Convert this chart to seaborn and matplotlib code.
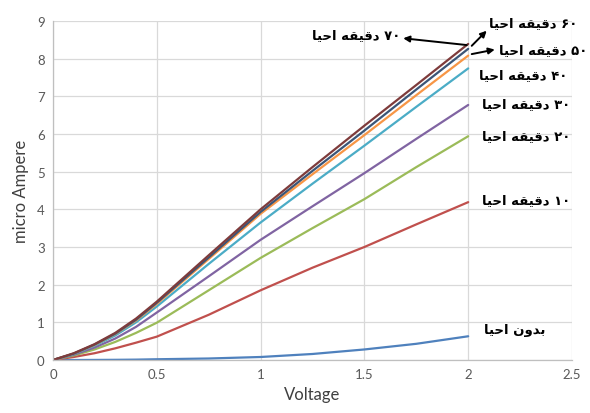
import re
import pandas as pd
import matplotlib
matplotlib.use("Agg")
import matplotlib.pyplot as plt
import seaborn as sns

# Data
voltage = [0, 0.1, 0.2, 0.3, 0.4, 0.5, 0.75, 1.0, 1.25, 1.5, 1.75, 2.0]

current_none = [0, 0.0, 0.002, 0.005, 0.01, 0.02, 0.04, 0.08, 0.16, 0.28, 0.43, 0.63]
current_10 = [0, 0.08, 0.18, 0.31, 0.46, 0.62, 1.2, 1.85, 2.45, 3.0, 3.6, 4.19]
current_20 = [0, 0.12, 0.28, 0.48, 0.72, 0.99, 1.85, 2.71, 3.5, 4.27, 5.12, 5.94]
current_30 = [0, 0.14, 0.33, 0.57, 0.88, 1.26, 2.22, 3.19, 4.08, 4.96, 5.87, 6.77]
current_40 = [0, 0.16, 0.38, 0.65, 1.0, 1.42, 2.55, 3.65, 4.68, 5.69, 6.72, 7.74]
current_50 = [0, 0.17, 0.40, 0.69, 1.05, 1.49, 2.68, 3.88, 4.93, 5.97, 7.03, 8.08]
current_60 = [0, 0.17, 0.41, 0.70, 1.07, 1.52, 2.72, 3.93, 5.02, 6.09, 7.18, 8.26]
current_70 = [0, 0.18, 0.42, 0.72, 1.10, 1.55, 2.78, 4.00, 5.12, 6.22, 7.30, 8.39]

series_labels = ["بدون احیا", "۱۰ دقیقه احیا", "۲۰ دقیقه احیا", "۳۰ دقیقه احیا",
                 "۴۰ دقیقه احیا", "۵۰ دقیقه احیا", "۶۰ دقیقه احیا", "۷۰ دقیقه احیا"]
series_values = [current_none, current_10, current_20, current_30,
                 current_40, current_50, current_60, current_70]
colors = ["#4F81BD", "#C0504D", "#9BBB59", "#8064A2",
          "#4BACC6", "#F79646", "#3B5577", "#7E3B3B"]

x_ticks = [0, 0.5, 1, 1.5, 2, 2.5]
y_ticks = list(range(0, 10))

# --- minimal Arabic/Persian shaping (matplotlib has no complex text layout) ---
# forms: isolated, final, initial, medial
FORMS = {
    "ا": ("\uFE8D", "\uFE8E", None, None),
    "د": ("\uFEA9", "\uFEAA", None, None),
    "و": ("\uFEED", "\uFEEE", None, None),
    "ب": ("\uFE8F", "\uFE90", "\uFE91", "\uFE92"),
    "ح": ("\uFEA1", "\uFEA2", "\uFEA3", "\uFEA4"),
    "ق": ("\uFED5", "\uFED6", "\uFED7", "\uFED8"),
    "ن": ("\uFEE5", "\uFEE6", "\uFEE7", "\uFEE8"),
    "ه": ("\uFEE9", "\uFEEA", "\uFEEB", "\uFEEC"),
    "ی": ("\uFBFC", "\uFBFD", "\uFBFE", "\uFBFF"),
}


def shape_rtl(text):
    def dual(c):
        return c in FORMS and FORMS[c][2] is not None

    out = []
    for i, c in enumerate(text):
        if c not in FORMS:
            out.append(c)
            continue
        prev = text[i - 1] if i > 0 else ""
        nxt = text[i + 1] if i + 1 < len(text) else ""
        jp = dual(prev)
        jn = dual(c) and nxt in FORMS
        iso, fin, ini, med = FORMS[c]
        if jp and jn:
            out.append(med)
        elif jp:
            out.append(fin)
        elif jn:
            out.append(ini)
        else:
            out.append(iso)
    visual = "".join(out)[::-1]
    # digit runs stay left-to-right
    return re.sub(r"[\u06F0-\u06F90-9]+", lambda m: m.group(0)[::-1], visual)


# long-form table for seaborn
rows = []
for lab, vals in zip(series_labels, series_values):
    for v, c in zip(voltage, vals):
        rows.append({"Voltage": v, "Current": c, "Series": lab})
df = pd.DataFrame(rows)

sns.set_style("white")
plt.rcParams["font.family"] = ["Lato", "DejaVu Sans"]

fig = plt.figure(figsize=(5.9, 4.14), dpi=100)
ax = fig.add_axes([0.0898, 0.128, 0.8797, 0.819])

sns.lineplot(data=df, x="Voltage", y="Current", hue="Series",
             hue_order=series_labels, palette=colors, linewidth=1.6,
             legend=False, ax=ax)

ax.set_xlim(0, 2.5)
ax.set_ylim(0, 9)
ax.set_xticks(x_ticks)
ax.set_xticklabels(["0", "0.5", "1", "1.5", "2", "2.5"])
ax.set_yticks(y_ticks)
ax.grid(True, color="#D9D9D9", linewidth=0.9)
ax.set_axisbelow(True)
for side in ["top", "right"]:
    ax.spines[side].set_visible(False)
for side in ["left", "bottom"]:
    ax.spines[side].set_color("#BFBFBF")
    ax.spines[side].set_linewidth(0.9)
ax.tick_params(length=0, labelsize=9.5, colors="#595959", pad=6)
ax.set_xlabel("Voltage", fontsize=12, color="#404040", labelpad=4)
ax.set_ylabel("micro Ampere", fontsize=12, color="#404040", labelpad=6)

# series labels at right of the curves
lab_kw = dict(fontsize=9.5, fontweight="bold", color="black",
              family=["DejaVu Sans"], ha="center", va="center",
              annotation_clip=False)
label_pos = {
    0: (2.225, 0.80),
    1: (2.278, 4.25),
    2: (2.278, 5.95),
    3: (2.278, 6.82),
    4: (2.264, 7.57),
}
for i, (lx, ly) in label_pos.items():
    ax.annotate(shape_rtl(series_labels[i]), xy=(lx, ly), **lab_kw)

arrow = dict(arrowstyle="-|>", color="black", lw=1.4, mutation_scale=9,
             shrinkA=0, shrinkB=0)
ax.annotate("", xy=(2.128, 8.24), xytext=(2.017, 8.12),
            arrowprops=arrow, annotation_clip=False)
ax.annotate(shape_rtl(series_labels[5]), xy=(2.362, 8.23), **lab_kw)

ax.annotate("", xy=(2.089, 8.74), xytext=(2.017, 8.34),
            arrowprops=arrow, annotation_clip=False)
ax.annotate(shape_rtl(series_labels[6]), xy=(2.312, 8.97), **lab_kw)

ax.annotate("", xy=(1.687, 8.54), xytext=(1.993, 8.36),
            arrowprops=arrow, annotation_clip=False)
ax.annotate(shape_rtl(series_labels[7]), xy=(1.46, 8.63), **lab_kw)

fig.savefig("out.png", dpi=100)
